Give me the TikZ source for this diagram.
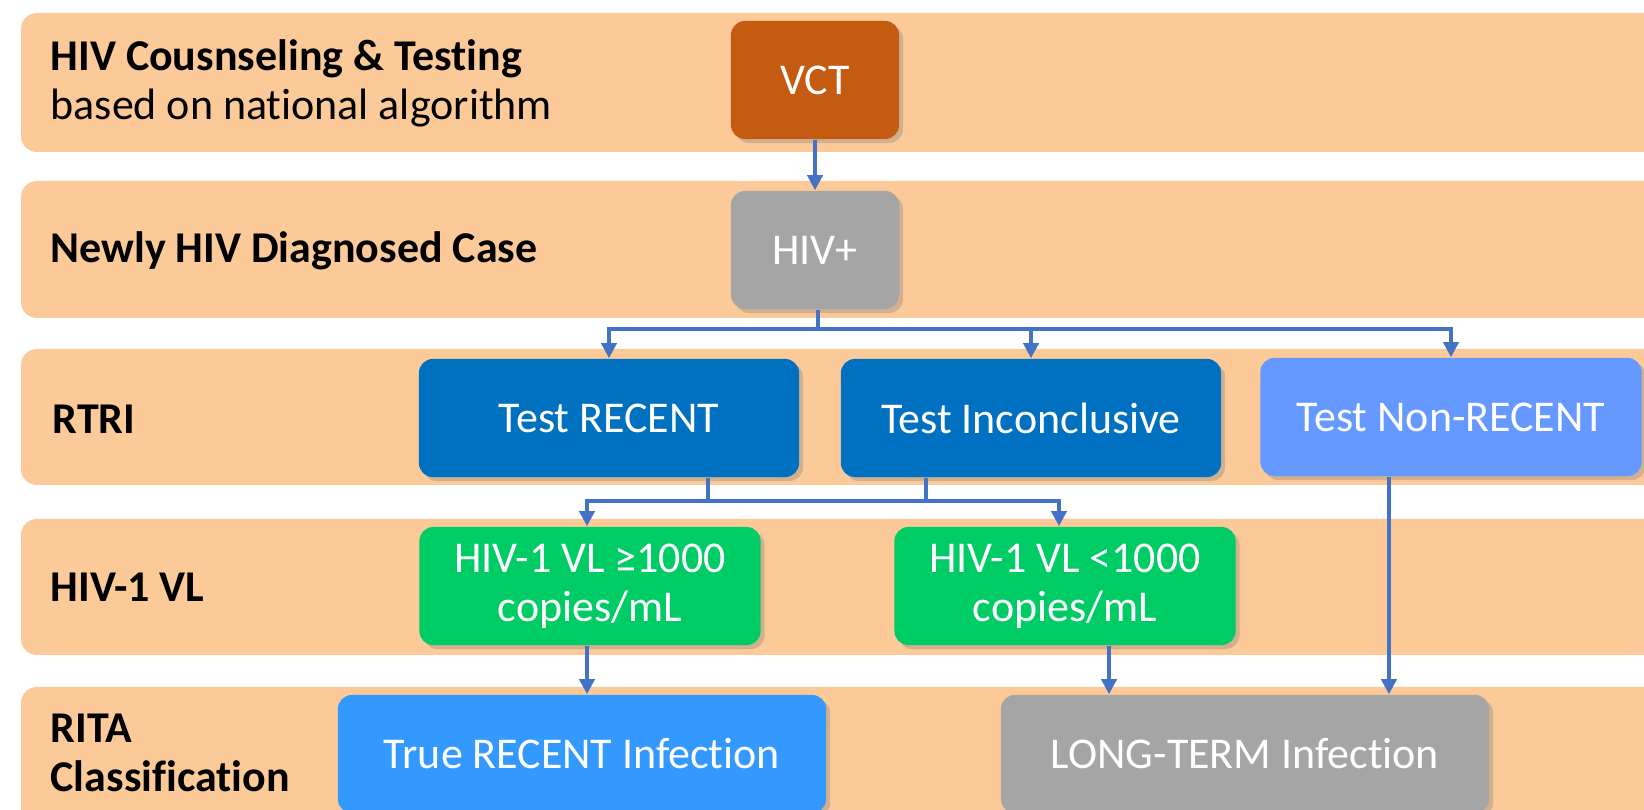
\documentclass[tikz,border=0pt]{standalone}
\usepackage{fontspec}
\setmainfont{Carlito}[Ligatures=NoCommon]
\usetikzlibrary{arrows.meta,shadows}

\definecolor{peach}{HTML}{FBCA98}
\definecolor{vctorange}{HTML}{C55A11}
\definecolor{boxgray}{HTML}{A5A5A5}
\definecolor{rtriblue}{HTML}{0070C0}
\definecolor{nonblue}{HTML}{6699FF}
\definecolor{vlgreen}{HTML}{00CC66}
\definecolor{recblue}{HTML}{3399FF}
\definecolor{linkblue}{HTML}{4472C4}

\tikzset{
  stage/.style={fill=peach, rounded corners=0.16cm},
  box/.style={rounded corners=0.14cm, text=white, align=center,
    font=\fontsize{12.5}{14}\selectfont, minimum height=1.18cm,
    drop shadow={shadow xshift=0.04cm, shadow yshift=-0.04cm, opacity=0.35}},
  stagelabel/.style={anchor=west, align=left, inner sep=0pt,
    font=\fontsize{12.5}{14}\selectfont\bfseries},
  link/.style={draw=linkblue, line width=1pt},
  flow/.style={link, -{Triangle[length=0.15cm, width=0.15cm]}}
}

\begin{document}
\begin{tikzpicture}[x=0.01cm, y=-0.01cm]
  \useasboundingbox (0,0) rectangle (1644,810);
  \clip (0,0) rectangle (1644,810);
  \fill[white] (0,0) rectangle (1644,810);

  % background stages
  \fill[stage] (21,13) rectangle (1700,152);
  \fill[stage] (21,181) rectangle (1700,318);
  \fill[stage] (21,349) rectangle (1700,485);
  \fill[stage] (21,519) rectangle (1700,655);
  \fill[stage] (21,687) rectangle (1700,880);

  \node[stagelabel] (l1) at (50,83) {HIV Cousnseling \& Testing\\\mdseries based on national algorithm};
  \node[stagelabel] (l2) at (50,251) {Newly HIV Diagnosed Case};
  \node[stagelabel] (l3) at (52,419) {RTRI};
  \node[stagelabel] (l4) at (50,587) {HIV-1 VL};
  \node[stagelabel] (l5) at (50,753) {RITA\\Classification};

  % boxes
  \node[box, fill=vctorange, minimum width=1.68cm] (vct) at (815,80) {VCT};
  \node[box, fill=boxgray, minimum width=1.68cm] (hiv) at (815,250) {HIV+};
  \node[box, fill=rtriblue, minimum width=3.80cm] (recent) at (609,418) {Test RECENT};
  \node[box, fill=rtriblue, minimum width=3.80cm] (incon) at (1031,418) {Test Inconclusive};
  \node[box, fill=nonblue, minimum width=3.81cm] (nonrec) at (1451,417) {Test Non-RECENT};
  \node[box, fill=vlgreen, minimum width=3.41cm] (vlhigh) at (590,586) {HIV-1 VL ≥1000\\copies/mL};
  \node[box, fill=vlgreen, minimum width=3.41cm] (vllow) at (1065,586) {HIV-1 VL <1000\\copies/mL};
  \node[box, fill=recblue, minimum width=4.88cm] (truerec) at (582,754) {True RECENT Infection};
  \node[box, fill=boxgray, minimum width=4.88cm] (longterm) at (1245,754) {LONG-TERM Infection};

  % connectors
  \coordinate (split) at (818,329);
  \coordinate (merge) at (708,501);
  \draw[flow] (vct) -- (hiv);
  \draw[link] (hiv.south -| split) -- (split);
  \draw[flow] (split) -| (recent.north);
  \draw[flow] (split) -| (incon.north);
  \draw[flow] (split) -| (nonrec.north);

  \draw[link] (recent.south -| merge) -- (merge);
  \draw[link] (incon.south -| 926,0) -- (926,501);
  \draw[flow] (merge) -| ([xshift=-0.03cm]vlhigh.north);
  \draw[flow] (merge) -| ([xshift=-0.06cm]vllow.north);

  \draw[flow] ([xshift=-0.03cm]vlhigh.south) -- ([xshift=-0.03cm]vlhigh.south |- truerec.north);
  \draw[flow] ([xshift=0.44cm]vllow.south) -- ([xshift=0.44cm]vllow.south |- longterm.north);
  \draw[flow] ([xshift=-0.62cm]nonrec.south) -- ([xshift=-0.62cm]nonrec.south |- longterm.north);
\end{tikzpicture}
\end{document}
